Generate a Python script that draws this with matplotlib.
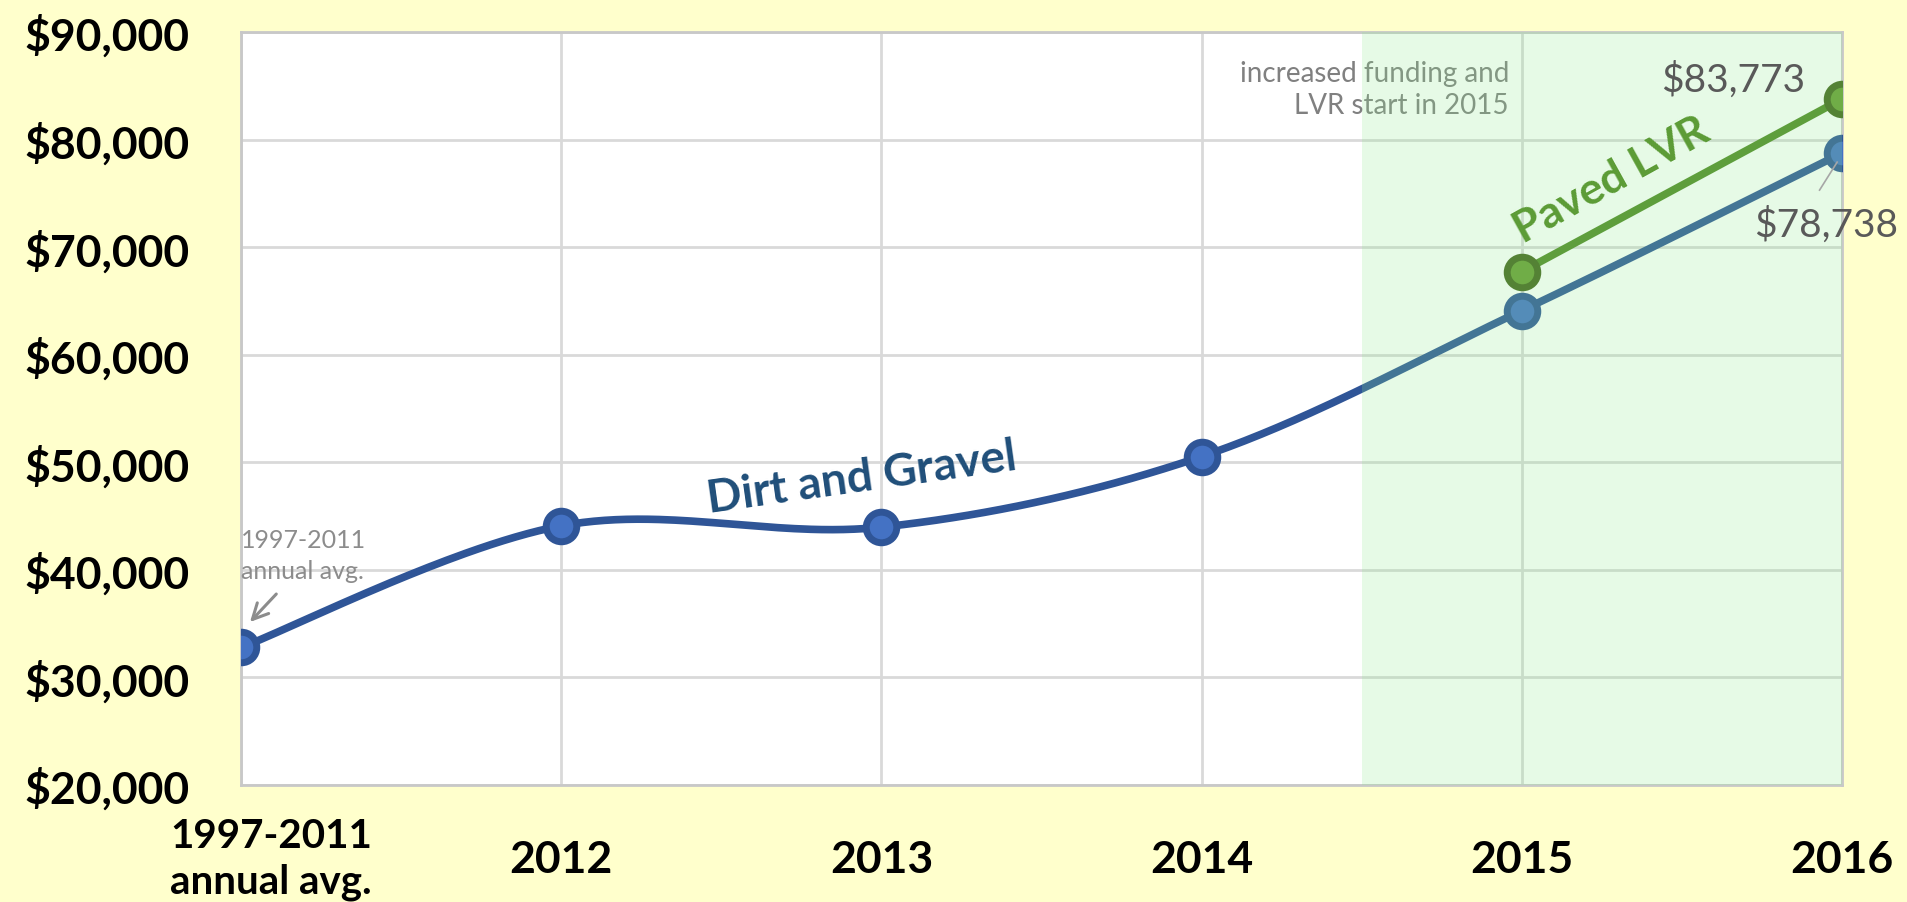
"""
Dirt and gravel vs paved LVR annual funding, smoothed line chart
"""
import numpy as np
import matplotlib
matplotlib.use("Agg")
import matplotlib.pyplot as plt
from matplotlib.ticker import MultipleLocator, FuncFormatter

plt.rcParams['font.family'] = ['Lato', 'DejaVu Sans']

# data
categories = ['1997-2011\nannual avg.', '2012', '2013', '2014', '2015', '2016']
dirt_gravel = [32780, 44090, 43970, 50530, 64100, 78738]
paved_years = ['2015', '2016']
paved_lvr = [67720, 83773]

BG = '#FFFFCC'
BLUE = '#2F5597'
BLUE_FACE = '#4472C4'
GREEN = '#5E9E3C'
GREEN_FACE = '#70AD47'
GREEN_EDGE = '#548235'


def smooth(xs, ys, n=60):
    """excel-like smoothed line (catmull-rom as cubic bezier)"""
    p = np.column_stack([xs, ys]).astype(float)
    pts = np.vstack([p[0], p, p[-1]])
    out = []
    t = np.linspace(0, 1, n)[:, None]
    for i in range(1, len(pts) - 2):
        p0, p3 = pts[i], pts[i + 1]
        p1 = p0 + (pts[i + 1] - pts[i - 1]) / 6
        p2 = p3 - (pts[i + 2] - pts[i]) / 6
        seg = (1 - t) ** 3 * p0 + 3 * (1 - t) ** 2 * t * p1 + 3 * (1 - t) * t ** 2 * p2 + t ** 3 * p3
        out.append(seg if i == 1 else seg[1:])
    out = np.vstack(out)
    return out[:, 0], out[:, 1]


def main():
    fig = plt.figure(figsize=(19.07, 9.03), dpi=100, facecolor=BG)
    ax = fig.add_axes([0.1264, 0.1296, 0.8395, 0.8339])
    ax.set_facecolor('white')

    x = np.arange(len(categories))
    xp = np.array([categories.index(y) for y in paved_years])

    # dirt and gravel line (smoothed)
    sx, sy = smooth(x, dirt_gravel)
    ax.plot(sx, sy, color=BLUE, lw=5.5, solid_capstyle='round', zorder=3)
    ax.plot(x, dirt_gravel, 'o', ms=22, mfc=BLUE_FACE, mec=BLUE, mew=5, zorder=4)

    # shaded period (drawn over blue line)
    ax.axvspan(3.5, 5, color='#8EEA8E', alpha=0.22, lw=0, zorder=5)

    # paved LVR
    ax.plot(xp, paved_lvr, color=GREEN, lw=5.5, zorder=6)
    ax.plot(xp, paved_lvr, 'o', ms=22, mfc=GREEN_FACE, mec=GREEN_EDGE, mew=5, zorder=7)

    ax.set_xlim(0, 5)
    ax.set_ylim(20000, 90000)
    ax.yaxis.set_major_locator(MultipleLocator(10000))
    ax.yaxis.set_major_formatter(FuncFormatter(lambda v, p: '${:,.0f}'.format(v)))
    ax.set_xticks(x)
    ax.set_xticklabels([])
    ax.grid(True, color='#D9D9D9', lw=2, zorder=1)
    ax.set_axisbelow(True)
    for s in ax.spines.values():
        s.set_color('#C8C8C8')
        s.set_linewidth(2)
    ax.tick_params(axis='both', length=0)
    ax.tick_params(axis='y', pad=37, labelsize=32)
    for t in ax.get_yticklabels():
        t.set_fontweight('bold')

    # x labels
    for i, lab in enumerate(categories):
        if i == 0:
            ax.annotate(lab, xy=(i, 0), xycoords=('data', 'axes fraction'),
                        xytext=(-51, -53), textcoords='offset points',
                        ha='left', va='center', fontsize=29, fontweight='bold',
                        linespacing=1.3)
        else:
            ax.annotate(lab, xy=(i, 0), xycoords=('data', 'axes fraction'),
                        xytext=(0, -53), textcoords='offset points',
                        ha='center', va='center', fontsize=32, fontweight='bold')

    # annotations
    ax.text(1.94, 48630, 'Dirt and Gravel', color='#1F4E79', fontsize=33,
            fontweight='bold', rotation=8, ha='center', va='center', zorder=8)
    ax.text(4.28, 76300, 'Paved LVR', color='#5B9B35', fontsize=32,
            fontweight='bold', rotation=29, ha='center', va='center', zorder=8,
            rotation_mode='anchor')
    ax.text(4.66, 85630, '$83,773', color='#595959', fontsize=28,
            ha='center', va='center', zorder=8)
    ax.text(4.95, 72150, '$78,738', color='#595959', fontsize=28,
            ha='center', va='center', zorder=8, clip_on=False)
    ax.plot([4.93, 4.985], [75300, 77900], color='#A6A6A6', lw=1.2, zorder=8,
            clip_on=False)
    ax.text(3.96, 84700, 'increased funding and\nLVR start in 2015', color='#808080',
            fontsize=20, ha='right', va='center', linespacing=1.25, zorder=4)
    ax.text(0.0, 41380, '1997-2011\nannual avg.', color='#8C8C8C', fontsize=18,
            ha='left', va='center', linespacing=1.45, zorder=4)
    ax.annotate('', xy=(0.022, 34960), xytext=(0.116, 37940),
                arrowprops=dict(arrowstyle='->', color='#8C8C8C', lw=2.2,
                                mutation_scale=28), zorder=4)

    fig.savefig('out.png', dpi=100, facecolor=BG)


if __name__ == "__main__":
    main()
